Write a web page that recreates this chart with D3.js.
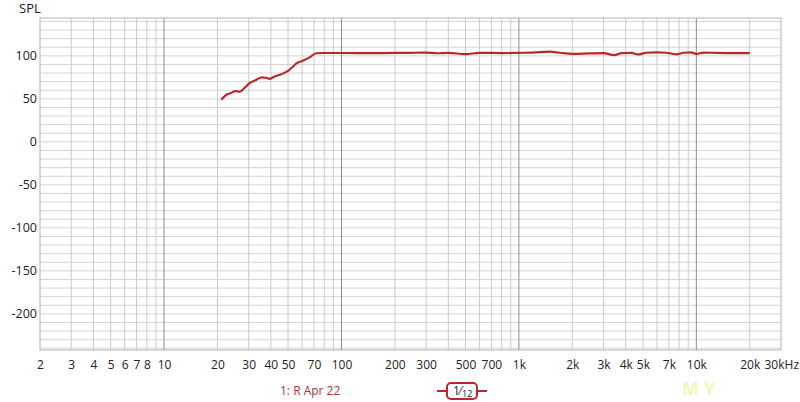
<!DOCTYPE html>
<html>
<head>
<meta charset="utf-8">
<script src="https://cdn.jsdelivr.net/npm/d3@7"></script>
<style>
  body { margin: 0; background: #fff; }
  svg { display: block; font-family: "Open Sans", "Noto Sans", sans-serif; }
</style>
</head>
<body>
<div id="chart"></div>
<script>
// measured response (Hz / dB SPL)
const freqs = [21, 22.6, 24, 25.1, 26.8, 28.5, 30.5, 33, 35.6, 37.5, 39.6, 42, 45, 48, 50, 53, 56, 61, 66.5, 72,
  80, 100, 150, 200, 260, 300, 345, 400, 500, 600, 800, 1000, 1200, 1500, 1700, 2000, 2500, 3000, 3440, 3800,
  4300, 4700, 5200, 6000, 6800, 7700, 8500, 9300, 10000, 11000, 13000, 16000, 20000];
const spl = [49, 55, 57, 59, 58.5, 63, 68.5, 72, 75, 74.5, 73.3, 76, 78, 80.5, 82.6, 87, 91.5, 94.5, 98.5, 103,
  103.3, 103.3, 103.2, 103.4, 103.6, 103.8, 103, 103.5, 102, 103.5, 103.2, 103.5, 103.8, 104.8, 103.6, 102.3, 102.8, 103.2, 100.8, 103.2,
  103.4, 101.6, 103.6, 104, 103.6, 101.8, 103.6, 104, 102.3, 103.8, 103.4, 103.2, 103.2];

const xTicks = [2, 3, 4, 5, 6, 7, 8, 10, 20, 30, 40, 50, 70, 100, 200, 300, 500, 700, 1000, 2000, 3000, 4000, 5000, 7000, 10000, 20000, 30000];
const yTicks = [100, 50, 0, -50, -100, -150, -200];

const width = 800, height = 402;
const svg = d3.select("#chart").append("svg")
  .attr("width", width)
  .attr("height", height);

const x = d3.scaleLog().domain([2, 30000]).range([40, 781]);
const y = d3.scaleLinear().domain([-242, 144]).range([350, 18]);

// horizontal grid every 10 dB
const hLines = d3.range(-240, 141, 10);
svg.append("g")
  .selectAll("line")
  .data(hLines)
  .join("line")
  .attr("x1", x.range()[0]).attr("x2", x.range()[1])
  .attr("y1", d => y(d)).attr("y2", d => y(d))
  .attr("stroke", "#d4d4d4")
  .attr("stroke-width", 1);

// vertical grid, 1..9 per decade
const vLines = [];
[1, 10, 100, 1000, 10000].forEach(dec => {
  for (let m = 1; m <= 9; m++) {
    const f = m * dec;
    if (f > 2 && f < 30000) vLines.push({ f, major: m === 1 });
  }
});
svg.append("g")
  .selectAll("line")
  .data(vLines)
  .join("line")
  .attr("x1", d => x(d.f)).attr("x2", d => x(d.f))
  .attr("y1", y.range()[1]).attr("y2", y.range()[0])
  .attr("stroke", d => d.major ? "#8c8c8c" : "#cbcbcb")
  .attr("stroke-width", 1);

// plot border
svg.append("rect")
  .attr("x", x.range()[0]).attr("y", y.range()[1])
  .attr("width", x.range()[1] - x.range()[0])
  .attr("height", y.range()[0] - y.range()[1])
  .attr("fill", "none")
  .attr("stroke", "#b4b4b4");

// x axis labels
const fmtF = d => d === 30000 ? "30kHz" : d >= 1000 ? (d / 1000) + "k" : String(d);
const xAxis = svg.append("g")
  .attr("transform", `translate(0,${y.range()[0]})`)
  .call(d3.axisBottom(x).tickValues(xTicks).tickFormat(fmtF).tickSize(0).tickPadding(10));
xAxis.select(".domain").remove();
xAxis.selectAll("text")
  .attr("font-size", 12)
  .attr("fill", "#222")
  .attr("font-family", "\"Open Sans\", \"Noto Sans\", sans-serif")
  .filter(d => d === 30000)
  .attr("text-anchor", "start")
  .attr("x", -17);

// y axis labels (plain hyphen for negatives)
const yAxis = svg.append("g")
  .attr("transform", `translate(${x.range()[0]},0)`)
  .call(d3.axisLeft(y).tickValues(yTicks).tickFormat(d => String(d)).tickSize(0).tickPadding(3));
yAxis.select(".domain").remove();
yAxis.selectAll("text")
  .attr("font-size", 12.5)
  .attr("fill", "#222")
  .attr("font-family", "\"Open Sans\", \"Noto Sans\", sans-serif");

svg.append("text")
  .attr("x", 19).attr("y", 13)
  .attr("font-size", 13)
  .attr("fill", "#222")
  .text("SPL");

// response curve
const line = d3.line()
  .x((d, i) => x(freqs[i]))
  .y(d => y(d))
  .curve(d3.curveMonotoneX);
svg.append("path")
  .datum(spl)
  .attr("d", line)
  .attr("fill", "none")
  .attr("stroke", "#b8282a")
  .attr("stroke-width", 2.2)
  .attr("stroke-linejoin", "round");

// legend
svg.append("text")
  .attr("x", 280).attr("y", 395)
  .attr("font-size", 12)
  .attr("fill", "#a83236")
  .text("1: R Apr 22");

const lg = svg.append("g").attr("transform", "translate(437,391)");
lg.append("line")
  .attr("x1", 0).attr("x2", 50).attr("y1", 0).attr("y2", 0)
  .attr("stroke", "#b8282a").attr("stroke-width", 2);
lg.append("rect")
  .attr("x", 10).attr("y", -8).attr("width", 30).attr("height", 16).attr("rx", 4)
  .attr("fill", "#fff").attr("stroke", "#b8282a").attr("stroke-width", 2);
lg.append("text")
  .attr("x", 16).attr("y", 4)
  .attr("font-size", 12).attr("fill", "#222")
  .text("1⁄");
lg.append("text")
  .attr("x", 25).attr("y", 6)
  .attr("font-size", 9).attr("fill", "#222")
  .text("12");

// watermark
svg.append("text")
  .attr("x", 682).attr("y", 395)
  .attr("font-size", 18).attr("font-weight", "bold")
  .attr("fill", "#f8f4c0")
  .text("M Y");
</script>
</body>
</html>
